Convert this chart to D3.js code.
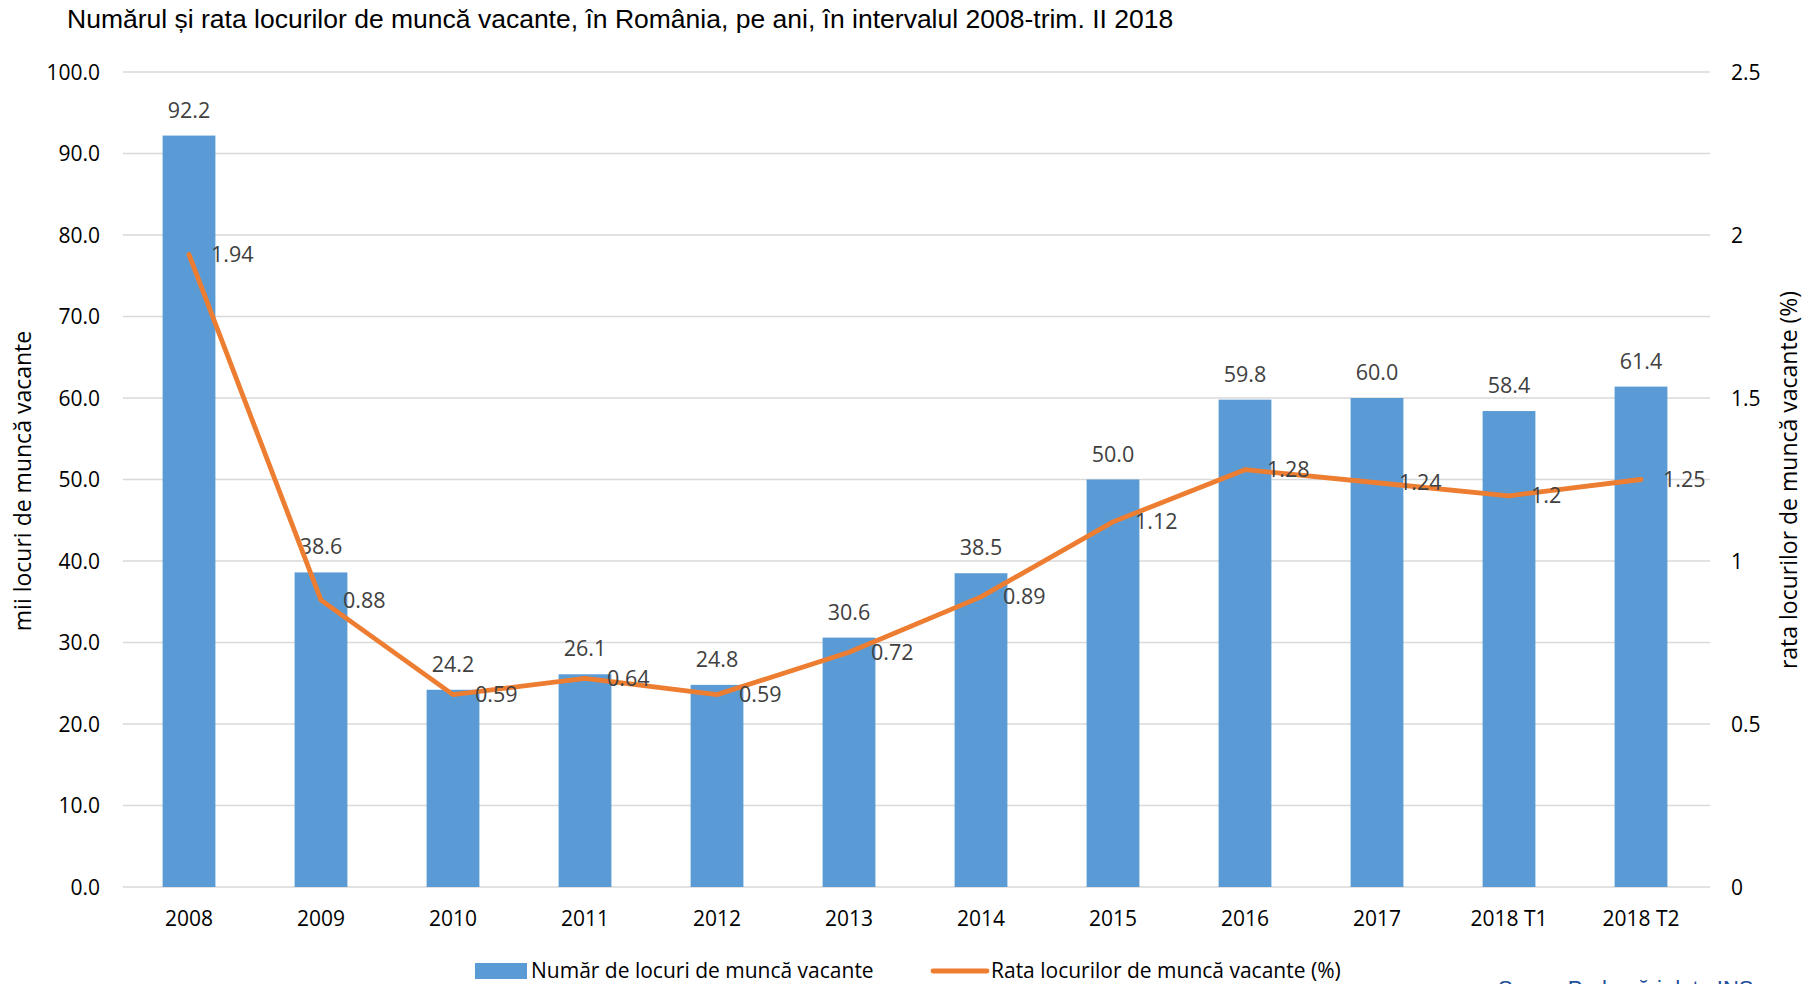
<!DOCTYPE html>
<html>
<head>
<meta charset="utf-8">
<style>
  body { margin: 0; background: #fff; }
  text { font-family: "Open Sans", "DejaVu Sans", sans-serif; }
</style>
</head>
<body>
<script src="https://d3js.org/d3.v7.min.js"></script>
<script>
// categories and series
var years = ["2008", "2009", "2010", "2011", "2012", "2013", "2014", "2015", "2016", "2017", "2018 T1", "2018 T2"];
var vacancies = [92.2, 38.6, 24.2, 26.1, 24.8, 30.6, 38.5, 50.0, 59.8, 60.0, 58.4, 61.4];
var rates = [1.94, 0.88, 0.59, 0.64, 0.59, 0.72, 0.89, 1.12, 1.28, 1.24, 1.2, 1.25];
var leftTicks = [0, 10, 20, 30, 40, 50, 60, 70, 80, 90, 100];
var rightTicks = [0, 0.5, 1, 1.5, 2, 2.5];

var W = 1807, H = 984;
var plotLeft = 123, plotRight = 1707, plotTop = 72, plotBottom = 887;

var svg = d3.select("body").append("svg")
    .attr("width", W)
    .attr("height", H);

var x = d3.scaleBand().domain(years).range([plotLeft, plotRight]).paddingInner(0.6).paddingOuter(0.3);
var y = d3.scaleLinear().domain([0, 100]).range([plotBottom, plotTop]);
var y2 = d3.scaleLinear().domain([0, 2.5]).range([plotBottom, plotTop]);

// title
svg.append("text")
    .attr("x", 67).attr("y", 28)
    .style("font-family", "'Liberation Sans', Arial, sans-serif")
    .style("font-size", "26.5px")
    .attr("fill", "#000")
    .text("Numărul și rata locurilor de muncă vacante, în România, pe ani, în intervalul 2008-trim. II 2018");

// gridlines
svg.append("g").selectAll("line")
    .data(leftTicks)
    .enter().append("line")
    .attr("x1", plotLeft).attr("x2", plotRight + 3)
    .attr("y1", function(d) { return y(d); })
    .attr("y2", function(d) { return y(d); })
    .attr("stroke", "#d9d9d9")
    .attr("stroke-width", 1.4);

// left axis
var yAxis = d3.axisLeft(y).tickValues(leftTicks).tickSize(0).tickPadding(0)
    .tickFormat(function(d) { return d3.format(".1f")(d); });
var gl = svg.append("g").attr("transform", "translate(100,0)").call(yAxis);
gl.select(".domain").remove();
gl.selectAll("text").style("font-size", "21px").attr("fill", "#000")
    .style("font-family", "'Open Sans', sans-serif").attr("dy", "0.35em");

// right axis
var yAxis2 = d3.axisRight(y2).tickValues(rightTicks).tickSize(0).tickPadding(0)
    .tickFormat(function(d) { return String(d); });
var gr = svg.append("g").attr("transform", "translate(1731,0)").call(yAxis2);
gr.select(".domain").remove();
gr.selectAll("text").style("font-size", "21px").attr("fill", "#000")
    .style("font-family", "'Open Sans', sans-serif").attr("dy", "0.35em");

// x axis
var xAxis = d3.axisBottom(x).tickSize(0).tickPadding(0);
var gx = svg.append("g").attr("transform", "translate(0," + plotBottom + ")").call(xAxis);
gx.select(".domain").remove();
gx.selectAll("text").style("font-size", "21px").attr("fill", "#000")
    .style("font-family", "'Open Sans', sans-serif").attr("y", 39).attr("dy", 0);

// axis titles
svg.append("text")
    .attr("transform", "translate(31,481) rotate(-90)")
    .attr("text-anchor", "middle")
    .style("font-size", "23px")
    .attr("fill", "#000")
    .text("mii locuri de muncă vacante");

svg.append("text")
    .attr("transform", "translate(1797,480) rotate(-90)")
    .attr("text-anchor", "middle")
    .style("font-size", "23px")
    .attr("fill", "#000")
    .text("rata locurilor de muncă vacante (%)");

// bars
svg.append("g").selectAll("rect")
    .data(vacancies)
    .enter().append("rect")
    .attr("x", function(d, i) { return x(years[i]); })
    .attr("width", x.bandwidth())
    .attr("y", function(d) { return y(d); })
    .attr("height", function(d) { return plotBottom - y(d); })
    .attr("fill", "#5b9bd5");

// bar labels
svg.append("g").selectAll("text")
    .data(vacancies)
    .enter().append("text")
    .attr("x", function(d, i) { return x(years[i]) + x.bandwidth() / 2; })
    .attr("y", function(d) { return y(d) - 18; })
    .attr("text-anchor", "middle")
    .style("font-size", "21.5px")
    .attr("fill", "#404040")
    .text(function(d) { return d3.format(".1f")(d); });

// rate line
var line = d3.line()
    .x(function(d, i) { return x(years[i]) + x.bandwidth() / 2; })
    .y(function(d) { return y2(d); });

svg.append("path")
    .datum(rates)
    .attr("d", line)
    .attr("fill", "none")
    .attr("stroke", "#ed7d31")
    .attr("stroke-width", 4.8)
    .attr("stroke-linejoin", "round")
    .attr("stroke-linecap", "round");

// rate labels
svg.append("g").selectAll("text")
    .data(rates)
    .enter().append("text")
    .attr("x", function(d, i) { return x(years[i]) + x.bandwidth() / 2 + 22; })
    .attr("y", function(d) { return y2(d); })
    .attr("dy", "0.35em")
    .style("font-size", "21.5px")
    .attr("fill", "#404040")
    .text(function(d) { return String(d); });

// legend
var lg = svg.append("g");
lg.append("rect").attr("x", 475).attr("y", 963).attr("width", 52).attr("height", 16).attr("fill", "#5b9bd5");
lg.append("text").attr("x", 531).attr("y", 971).attr("dy", "0.35em")
    .style("font-size", "21px").attr("fill", "#000")
    .text("Număr de locuri de muncă vacante");
lg.append("line").attr("x1", 933).attr("x2", 987).attr("y1", 971).attr("y2", 971)
    .attr("stroke", "#ed7d31").attr("stroke-width", 4.8).attr("stroke-linecap", "round");
lg.append("text").attr("x", 991).attr("y", 971).attr("dy", "0.35em")
    .style("font-size", "21px").attr("fill", "#000")
    .text("Rata locurilor de muncă vacante (%)");

// source, cut off at the bottom edge
svg.append("text")
    .attr("x", 1498).attr("y", 996)
    .style("font-family", "'Liberation Sans', Arial, sans-serif")
    .style("font-size", "22px")
    .attr("fill", "#1f4e9a")
    .text("Sursa: Prelucrări date INS");
</script>
</body>
</html>
